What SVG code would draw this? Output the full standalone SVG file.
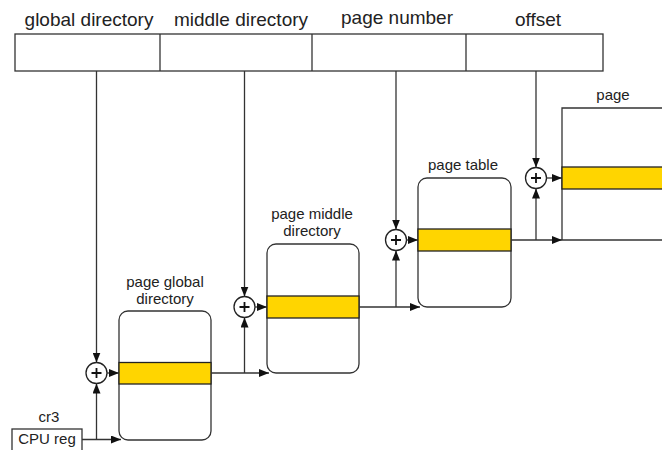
<svg xmlns="http://www.w3.org/2000/svg" width="662" height="450" viewBox="0 0 662 450">
  <defs>
    <marker id="arrow" viewBox="0 0 10 8" refX="10" refY="4" markerWidth="10" markerHeight="8" markerUnits="userSpaceOnUse" orient="auto">
      <path d="M0,0 L10,4 L0,8 z" fill="#111"/>
    </marker>
    <style>
      .ln { stroke: #333; stroke-width: 1.3; fill: none; }
      .arr { stroke: #333; stroke-width: 1.3; fill: none; marker-end: url(#arrow); }
      .box { stroke: #333; stroke-width: 1.3; fill: #fff; }
      .entry { stroke: #222; stroke-width: 1.3; fill: #FFD500; }
      .adder { stroke: #222; stroke-width: 1.3; fill: #fff; }
      .plus { stroke: #111; stroke-width: 1.8; }
      .hdr { font-family: "Liberation Sans", Arial, sans-serif; font-size: 19px; fill: #222; text-anchor: middle; }
      .lbl { font-family: "Liberation Sans", Arial, sans-serif; font-size: 15px; fill: #222; text-anchor: middle; }
    </style>
  </defs>

  <!-- linear address fields -->
  <g id="address">
    <rect x="15" y="34" width="588" height="37" class="box"/>
    <line x1="160" y1="34" x2="160" y2="71" class="ln"/>
    <line x1="312" y1="34" x2="312" y2="71" class="ln"/>
    <line x1="466" y1="34" x2="466" y2="71" class="ln"/>
    <text x="89" y="26" class="hdr">global directory</text>
    <text x="241" y="26" class="hdr">middle directory</text>
    <text x="397" y="24" class="hdr">page number</text>
    <text x="538" y="26" class="hdr">offset</text>
  </g>

  <!-- CPU register -->
  <g id="cr3">
    <rect x="12" y="429" width="70" height="30" class="box"/>
    <text x="49" y="422" class="lbl">cr3</text>
    <text x="47" y="444" class="lbl">CPU reg</text>
  </g>

  <!-- page global directory -->
  <g id="pgd">
    <text x="165" y="287" class="lbl">page global</text>
    <text x="165" y="304" class="lbl">directory</text>
    <rect x="119" y="311" width="92" height="129" rx="9" class="box"/>
    <rect x="119" y="362.5" width="92" height="21.5" class="entry"/>
  </g>

  <!-- page middle directory -->
  <g id="pmd">
    <text x="312" y="219" class="lbl">page middle</text>
    <text x="312" y="236" class="lbl">directory</text>
    <rect x="267" y="244" width="92" height="129" rx="9" class="box"/>
    <rect x="267" y="296" width="92" height="22" class="entry"/>
  </g>

  <!-- page table -->
  <g id="pt">
    <text x="463" y="170" class="lbl">page table</text>
    <rect x="418" y="178" width="93" height="129" rx="9" class="box"/>
    <rect x="418" y="229" width="93" height="22" class="entry"/>
  </g>

  <!-- page frame -->
  <g id="page">
    <text x="613" y="100" class="lbl">page</text>
    <path d="M662,108 H562 V240" class="ln"/>
    <rect x="562" y="167" width="102" height="22" class="entry"/>
  </g>

  <!-- adders -->
  <g id="add1">
    <circle cx="96.5" cy="373" r="10.5" class="adder"/>
    <path d="M91.5,373 H101.5 M96.5,368 V378" class="plus"/>
  </g>
  <g id="add2">
    <circle cx="244.5" cy="307" r="10.5" class="adder"/>
    <path d="M239.5,307 H249.5 M244.5,302 V312" class="plus"/>
  </g>
  <g id="add3">
    <circle cx="396" cy="240" r="10.5" class="adder"/>
    <path d="M391,240 H401 M396,235 V245" class="plus"/>
  </g>
  <g id="add4">
    <circle cx="536" cy="178" r="10.5" class="adder"/>
    <path d="M531,178 H541 M536,173 V183" class="plus"/>
  </g>

  <!-- connectors -->
  <g id="connectors">
    <!-- address fields to adders -->
    <line x1="96.5" y1="71" x2="96.5" y2="362.5" class="arr"/>
    <line x1="244.5" y1="71" x2="244.5" y2="296.5" class="arr"/>
    <line x1="396" y1="71" x2="396" y2="229.5" class="arr"/>
    <line x1="536" y1="71" x2="536" y2="167.5" class="arr"/>

    <!-- adders to table entries -->
    <line x1="107" y1="373" x2="119" y2="373" class="arr"/>
    <line x1="255" y1="307" x2="267" y2="307" class="arr"/>
    <line x1="406.5" y1="240" x2="418" y2="240" class="arr"/>
    <line x1="546.5" y1="178" x2="562" y2="178" class="arr"/>

    <!-- base addresses -->
    <line x1="82" y1="439.5" x2="121" y2="439.5" class="arr"/>
    <line x1="96.5" y1="439.5" x2="96.5" y2="383.5" class="arr"/>

    <line x1="211" y1="373" x2="269" y2="373" class="arr"/>
    <line x1="244.5" y1="373" x2="244.5" y2="317.5" class="arr"/>

    <line x1="359" y1="307" x2="420" y2="307" class="arr"/>
    <line x1="396" y1="307" x2="396" y2="250.5" class="arr"/>

    <line x1="511" y1="240" x2="562" y2="240" class="arr"/>
    <line x1="562" y1="240" x2="662" y2="240" class="ln"/>
    <line x1="536" y1="240" x2="536" y2="188.5" class="arr"/>
  </g>
</svg>
